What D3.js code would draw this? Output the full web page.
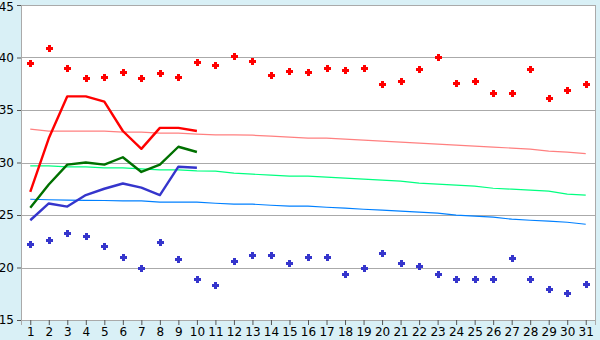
<!DOCTYPE html>
<html>
<head>
<meta charset="utf-8">
<script src="https://cdn.jsdelivr.net/npm/d3@7"></script>
<style>
  html, body { margin: 0; padding: 0; background: #d9f0f6; }
  svg { display: block; }
  .tick text { font-family: "DejaVu Sans", sans-serif; font-size: 12px; fill: #000; }
</style>
</head>
<body>
<div id="chart"></div>
<script>
const width = 600;
const height = 340;
const margin = { top: 5, right: 5, bottom: 20, left: 21 };

// days of the month
const days = d3.range(1, 32);
const yTicks = [15, 20, 25, 30, 35, 40, 45];

// scattered daily maxima / minima
const highPoints = [39.5, 40.9, 39.0, 38.0, 38.1, 38.6, 38.0, 38.5, 38.1, 39.6,
  39.3, 40.1, 39.7, 38.3, 38.7, 38.6, 39.0, 38.8, 39.0, 37.5,
  37.8, 38.9, 40.0, 37.6, 37.8, 36.6, 36.6, 38.9, 36.1, 36.9, 37.5];
const lowPoints = [22.2, 22.6, 23.3, 23.0, 22.0, 21.0, 20.0, 22.4, 20.8, 18.9,
  18.3, 20.6, 21.2, 21.2, 20.4, 21.0, 21.0, 19.4, 20.0, 21.4,
  20.4, 20.1, 19.4, 18.9, 18.9, 18.9, 20.9, 18.9, 18.0, 17.6, 18.4];

// thick lines, first 10 days only
const redLine = [27.2, 32.3, 36.3, 36.3, 35.8, 33.0, 31.3, 33.3, 33.3, 33.0];
const greenLine = [25.7, 27.9, 29.8, 30.0, 29.8, 30.5, 29.1, 29.8, 31.5, 31.0];
const blueLine = [24.5, 26.1, 25.8, 26.9, 27.5, 28.0, 27.6, 26.9, 29.6, 29.5];

// thin long-term lines
const pinkTrend = [33.18, 32.99, 32.99, 32.99, 32.99, 32.9, 32.9, 32.8, 32.8, 32.7,
  32.63, 32.63, 32.6, 32.51, 32.42, 32.32, 32.32, 32.23, 32.13, 32.04,
  31.94, 31.85, 31.75, 31.66, 31.56, 31.47, 31.37, 31.27, 31.08, 30.99, 30.85];
const greenTrend = [29.68, 29.68, 29.59, 29.59, 29.49, 29.49, 29.4, 29.3, 29.3, 29.2,
  29.18, 28.98, 28.89, 28.79, 28.7, 28.7, 28.6, 28.51, 28.41, 28.32,
  28.22, 28.03, 27.94, 27.84, 27.75, 27.55, 27.46, 27.36, 27.27, 26.98, 26.89];
const blueTrend = [26.5, 26.45, 26.42, 26.4, 26.38, 26.34, 26.34, 26.22, 26.22, 26.22,
  26.12, 26.03, 26.03, 25.93, 25.84, 25.84, 25.74, 25.65, 25.55, 25.46,
  25.36, 25.27, 25.17, 24.98, 24.89, 24.79, 24.6, 24.5, 24.41, 24.31, 24.12];

const svg = d3.select("#chart")
  .append("svg")
  .attr("width", width)
  .attr("height", height);

const x = d3.scalePoint()
  .domain(days)
  .range([margin.left, width - margin.right])
  .padding(0.5);

const y = d3.scaleLinear()
  .domain([15, 45])
  .range([height - margin.bottom, margin.top]);

// plot background
svg.append("rect")
  .attr("x", margin.left)
  .attr("y", margin.top)
  .attr("width", width - margin.left - margin.right)
  .attr("height", height - margin.top - margin.bottom)
  .attr("fill", "#fff")
  .attr("stroke", "#aaa")
  .attr("shape-rendering", "crispEdges");

// horizontal grid
svg.append("g")
  .selectAll("line")
  .data(yTicks)
  .enter()
  .append("line")
  .attr("x1", margin.left)
  .attr("x2", width - margin.right)
  .attr("y1", d => Math.round(y(d)) + 0.5)
  .attr("y2", d => Math.round(y(d)) + 0.5)
  .attr("stroke", "#aaa");

// axes
const yAxis = svg.append("g")
  .attr("transform", `translate(${margin.left},0)`)
  .call(d3.axisLeft(y).tickValues(yTicks).tickSize(4).tickPadding(3));

// keep the top label inside the picture
yAxis.selectAll(".tick text")
  .filter(d => d === 45)
  .attr("dy", "0.45em");

const xAxis = svg.append("g")
  .attr("transform", `translate(0,${height - margin.bottom})`)
  .call(d3.axisBottom(x).tickSize(5).tickPadding(2));

[yAxis, xAxis].forEach(g => {
  g.select(".domain").attr("stroke", "#aaa");
  g.selectAll(".tick line").attr("stroke", "#555");
});

// thin trend lines
const line = d3.line()
  .x((d, i) => x(days[i]))
  .y(d => y(d));

const trends = [
  { values: pinkTrend, color: "#ff8080" },
  { values: greenTrend, color: "#00ff80" },
  { values: blueTrend, color: "#0080ff" }
];

svg.append("g")
  .selectAll("path")
  .data(trends)
  .enter()
  .append("path")
  .attr("d", d => line(d.values))
  .attr("fill", "none")
  .attr("stroke", d => d.color)
  .attr("stroke-width", 1.2);

// thick lines
const mains = [
  { values: redLine, color: "#ff0000" },
  { values: greenLine, color: "#007000" },
  { values: blueLine, color: "#3535cc" }
];

svg.append("g")
  .selectAll("path")
  .data(mains)
  .enter()
  .append("path")
  .attr("d", d => line(d.values))
  .attr("fill", "none")
  .attr("stroke", d => d.color)
  .attr("stroke-width", 2.4)
  .attr("stroke-linejoin", "round");

// plus-shaped markers
const plus = {
  draw(ctx) {
    const a = 1.5, b = 3.5;
    ctx.moveTo(-a, -b);
    ctx.lineTo(a, -b);
    ctx.lineTo(a, -a);
    ctx.lineTo(b, -a);
    ctx.lineTo(b, a);
    ctx.lineTo(a, a);
    ctx.lineTo(a, b);
    ctx.lineTo(-a, b);
    ctx.lineTo(-a, a);
    ctx.lineTo(-b, a);
    ctx.lineTo(-b, -a);
    ctx.lineTo(-a, -a);
    ctx.closePath();
  }
};
const marker = d3.symbol().type(plus);

const markers = [
  { values: highPoints, color: "#ff0000" },
  { values: lowPoints, color: "#3535cc" }
];

markers.forEach(m => {
  svg.append("g")
    .selectAll("path")
    .data(m.values)
    .enter()
    .append("path")
    .attr("transform", (d, i) => `translate(${Math.round(x(days[i])) + 0.5},${Math.round(y(d)) + 0.5})`)
    .attr("d", marker)
    .attr("fill", m.color)
    .attr("shape-rendering", "crispEdges");
});
</script>
</body>
</html>
